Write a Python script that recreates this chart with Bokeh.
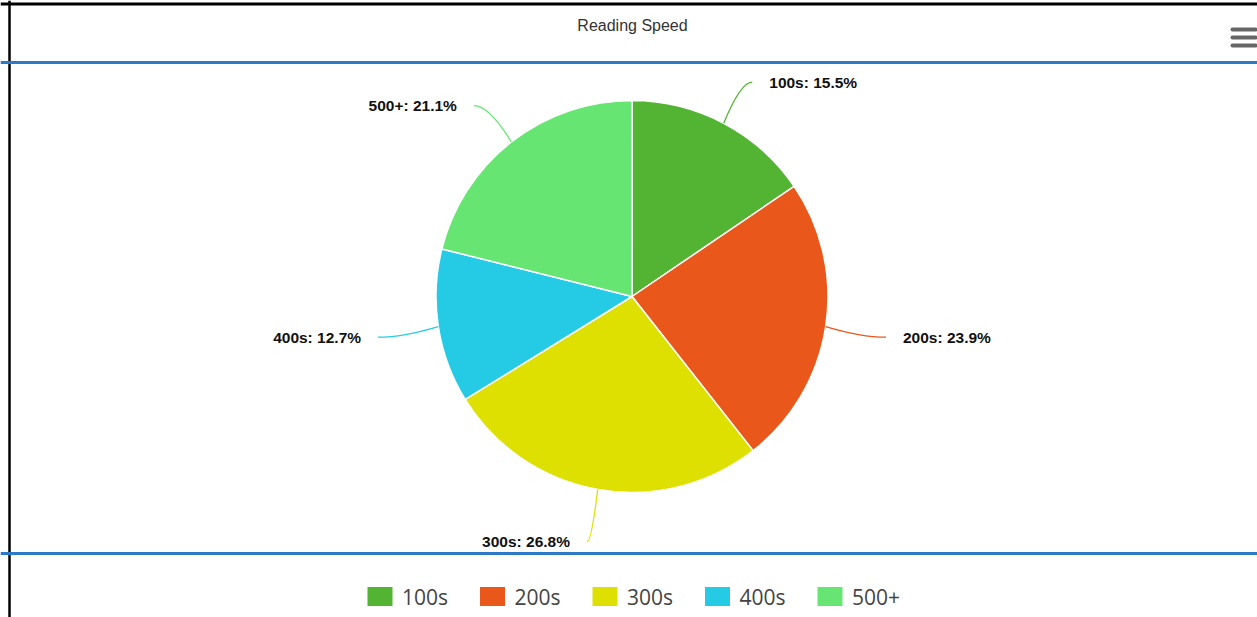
import numpy as np
from bokeh.plotting import figure
from bokeh.models import Range1d, Span, ColumnDataSource
from bokeh.core.properties import value
from bokeh.embed import file_html
from bokeh.resources import INLINE

# ---- data ----
categories = ["100s", "200s", "300s", "400s", "500+"]
shares = [15.5, 23.9, 26.8, 12.7, 21.1]
colors = ["#53b332", "#ea571b", "#dde000", "#25cbe5", "#67e573"]
chart_title = "Reading Speed"

# ---- layout ----
W, H = 1257, 617
CX, CY, R = 631.5, 321.0, 196.0

p = figure(width=W, height=H, x_range=Range1d(0, W), y_range=Range1d(0, H),
           output_backend="svg", toolbar_location=None, min_border=0,
           x_axis_location=None, y_axis_location=None,
           outline_line_color=None, background_fill_color="white",
           border_fill_color="white")
p.grid.visible = False

# frame decorations
p.add_layout(Span(location=613.5, dimension="width", line_color="black", line_width=3))
p.add_layout(Span(location=9, dimension="height", line_color="black", line_width=2.5))
p.add_layout(Span(location=555, dimension="width", line_color="#2c79c9", line_width=3))
p.add_layout(Span(location=64, dimension="width", line_color="#2c79c9", line_width=3))

# title
p.text(x=[632], y=[592], text=[chart_title], text_align="center",
       text_baseline="middle", text_font=value("Liberation Sans"),
       text_font_size="16px", text_color="#333333")

# hamburger menu icon
p.segment(x0=[1232] * 3, x1=[1255] * 3, y0=[588, 580, 572], y1=[588, 580, 572],
          line_color="#666666", line_width=4, line_cap="round")

# ---- pie ----
vals = np.array(shares, dtype=float)
frac = vals / vals.sum()
cum_end = np.cumsum(frac)
cum_start = cum_end - frac
start_ang = np.pi / 2 - 2 * np.pi * cum_start
end_ang = np.pi / 2 - 2 * np.pi * cum_end
mid = 2 * np.pi * (cum_start + frac / 2)  # clockwise from top

src = ColumnDataSource(dict(cat=categories, start=start_ang, end=end_ang, color=colors))
p.wedge(x=CX, y=CY, radius=R, start_angle="start", end_angle="end",
        direction="clock", fill_color="color", line_color="white",
        line_width=1.5, source=src)

# connectors and labels
s, c = np.sin(mid), np.cos(mid)
x0 = CX + R * s
y0 = CY + R * c
x1 = CX + (R + 61) * s
y1 = CY + (R + 50) * c - 3
xc = CX + (R + 36) * s
yc = y1
p.quadratic(x0=x0, y0=y0, x1=x1, y1=y1, cx=xc, cy=yc, line_color=colors, line_width=1.3)

right = s > 0
lx = np.where(right, x1 + 17, x1 - 17)
labels = [f"{k}: {v:.1f}%" for k, v in zip(categories, shares)]
align = ["left" if r else "right" for r in right]
lsrc = ColumnDataSource(dict(x=lx, y=y1, t=labels, a=align))
p.text(x="x", y="y", text="t", text_align="a", text_baseline="middle",
       text_font=value("Liberation Sans"), text_font_style="bold",
       text_font_size="15.5px", text_color="#111111", source=lsrc)

# ---- legend ----
idx = np.arange(len(categories))
sq_x = 379.5 + 112.5 * idx
p.rect(x=sq_x, y=[21] * len(categories), width=25, height=19, fill_color=colors,
       line_color=None)
p.text(x=sq_x + 22, y=[21] * len(categories), text=categories, text_align="left",
       text_baseline="middle", text_font=value("Open Sans"),
       text_font_size="21px", text_color="#444444")

open("out.html", "w").write(file_html(p, INLINE))
